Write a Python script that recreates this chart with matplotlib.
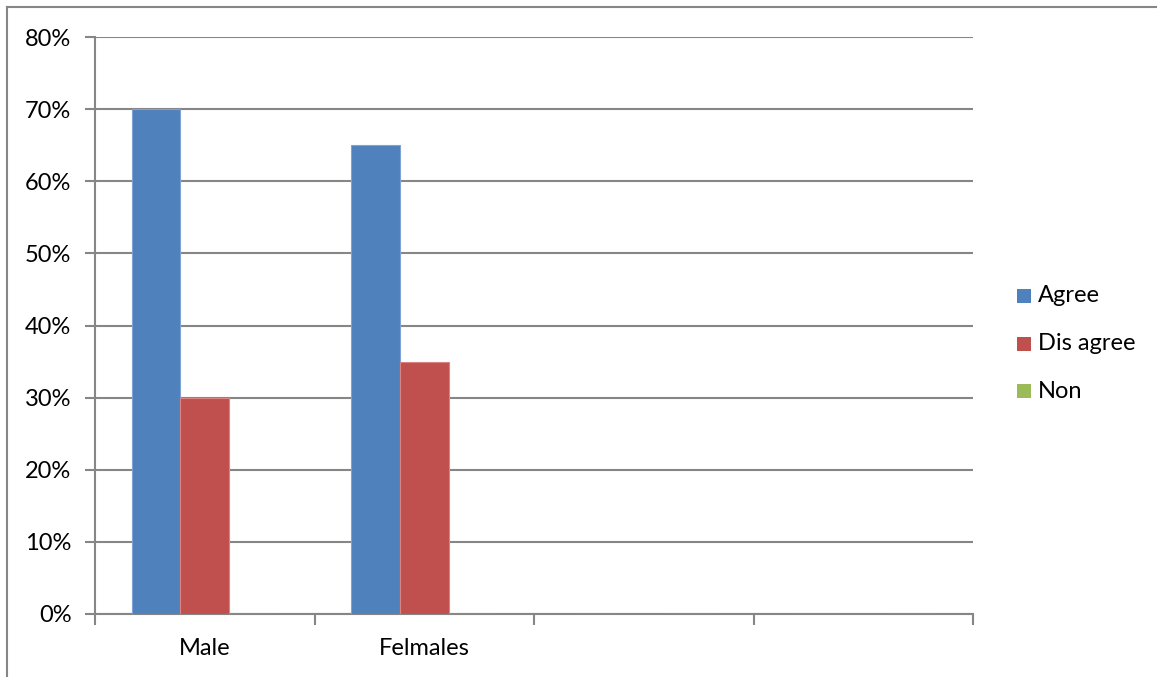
import matplotlib.pyplot as plt
import numpy as np
from matplotlib.lines import Line2D
from matplotlib.patches import Rectangle

categories = ["Male", "Felmales", "", ""]
series_names = ["Agree", "Dis agree", "Non"]
agree = [70, 65, 0, 0]
disagree = [30, 35, 0, 0]
non = [0, 0, 0, 0]
y_ticks = [0, 10, 20, 30, 40, 50, 60, 70, 80]

colors = ["#4f81bd", "#c0504d", "#9bbb59"]
edges = ["#7fa3d4", "#d98481", "#b5cf86"]
grid_gray = "#868686"

plt.rcParams["font.family"] = ["Lato", "DejaVu Sans"]

fig = plt.figure(figsize=(11.57, 6.77), dpi=100)
ax = fig.add_axes([95 / 1157, 1 - 614 / 677, (973 - 95) / 1157, (614 - 37) / 677])

# outer chart frame (left and top visible)
fig.add_artist(Line2D([7 / 1157, 7 / 1157], [0, 1 - 7 / 677], transform=fig.transFigure,
                      color=grid_gray, lw=1.5))
fig.add_artist(Line2D([7 / 1157, 1], [1 - 7 / 677, 1 - 7 / 677], transform=fig.transFigure,
                      color=grid_gray, lw=1.5))

x = np.arange(len(categories))
w = 1 / 4.5
for i, vals in enumerate([agree, disagree, non]):
    ax.bar(x - 0.5 + 0.75 * w + (i + 0.5) * w, vals, width=w, color=colors[i],
           edgecolor=edges[i], linewidth=0.8, zorder=3, label=series_names[i])

ax.set_xlim(-0.5, len(categories) - 0.5)
ax.set_ylim(0, 80)
ax.set_yticks(y_ticks)
ax.set_yticklabels([f"{t}%" for t in y_ticks])
ax.yaxis.grid(True, color=grid_gray, lw=1.5, zorder=0)

ax.set_xticks(np.arange(len(categories) + 1) - 0.5, minor=False)
ax.set_xticklabels([])
ax.set_xticks(x, minor=True)
ax.set_xticklabels(categories, minor=True)
ax.tick_params(axis="x", which="minor", length=0, pad=17, labelsize=17)
ax.tick_params(axis="x", which="major", length=8, width=1.5, color=grid_gray)
ax.tick_params(axis="y", length=7, width=1.5, color=grid_gray, pad=10, labelsize=17)

for side in ["top", "right"]:
    ax.spines[side].set_visible(False)
for side in ["left", "bottom"]:
    ax.spines[side].set_color(grid_gray)
    ax.spines[side].set_linewidth(1.5)

# legend drawn in figure pixels
for i, name in enumerate(series_names):
    yc = 296 + i * 47.5
    fig.add_artist(Rectangle((1017 / 1157, 1 - (yc + 7) / 677), 14 / 1157, 14 / 677,
                             transform=fig.transFigure, facecolor=colors[i], edgecolor="none"))
    fig.text(1038 / 1157, 1 - yc / 677, name, fontsize=17, va="center", ha="left")

fig.savefig("out.png", dpi=100)
